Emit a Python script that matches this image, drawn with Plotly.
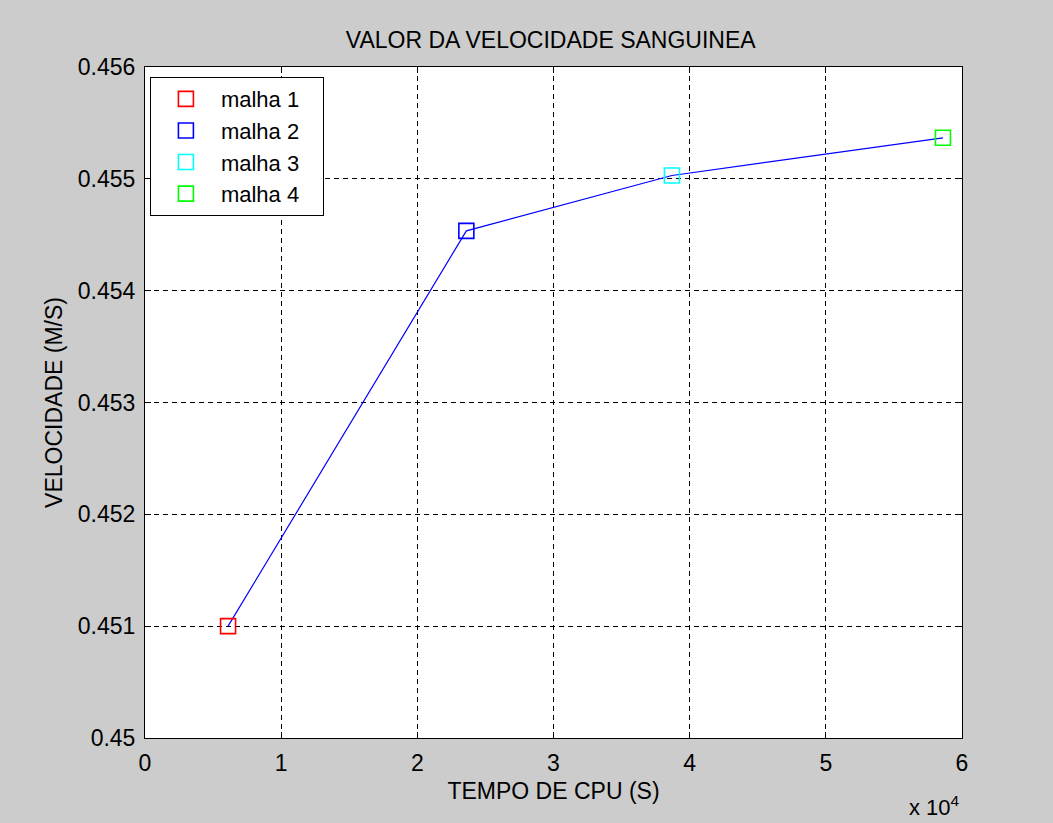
import plotly.graph_objects as go

# CPU time (s) and blood velocity (m/s) for each mesh
malhas = ["malha 1", "malha 2", "malha 3", "malha 4"]
tempo_cpu = [6100, 23600, 38700, 58600]
velocidade = [0.45100, 0.454535, 0.455030, 0.455367]
cores = ["#ff0000", "#0000ff", "#00ffff", "#00ff00"]

x_ticks = [0, 10000, 20000, 30000, 40000, 50000, 60000]
x_tick_labels = ["0", "1", "2", "3", "4", "5", "6"]
y_ticks = [0.450, 0.451, 0.452, 0.453, 0.454, 0.455, 0.456]
y_tick_labels = ["0.45", "0.451", "0.452", "0.453", "0.454", "0.455", "0.456"]

FONT = "Liberation Sans, Arial, sans-serif"

fig = go.Figure()

# connecting line through all meshes
fig.add_trace(go.Scatter(
    x=tempo_cpu, y=velocidade, mode="lines",
    line=dict(color="#0000ff", width=1.2),
    showlegend=False, hoverinfo="skip",
))

# one open-square marker per mesh; the non-breaking spaces pad the legend box
for nome, xv, yv, cor in zip(malhas, tempo_cpu, velocidade, cores):
    fig.add_trace(go.Scatter(
        x=[xv], y=[yv], mode="markers", name=nome + "\u00a0" * 3,
        marker=dict(symbol="square-open", size=15, color=cor,
                    line=dict(color=cor, width=1.6)),
    ))

axis_common = dict(
    showline=True, linecolor="#000000", linewidth=1, mirror="ticks",
    ticks="inside", ticklen=6, tickcolor="#000000",
    showgrid=True, gridcolor="#000000", gridwidth=1, griddash="5px,4px",
    zeroline=False, tickfont=dict(family=FONT, size=23, color="#000000"),
)

fig.update_xaxes(
    range=[0, 60000], tickvals=x_ticks, ticktext=x_tick_labels,
    title=dict(text="TEMPO DE CPU (S)", font=dict(family=FONT, size=23, color="#000000"),
               standoff=8),
    ticklabelstandoff=4,
    **axis_common,
)
fig.update_yaxes(
    range=[0.450, 0.456], tickvals=y_ticks, ticktext=y_tick_labels,
    title=dict(text="VELOCIDADE (M/S)", font=dict(family=FONT, size=23, color="#000000"),
               standoff=8),
    ticklabelstandoff=4,
    **axis_common,
)

fig.add_annotation(
    text="x 10<sup>4</sup>", xref="paper", yref="paper",
    x=1.0, y=0, xanchor="right", yanchor="top", yshift=-52, xshift=0,
    showarrow=False, font=dict(family=FONT, size=22, color="#000000"),
)

fig.update_layout(
    width=1053, height=823,
    paper_bgcolor="#cccccc", plot_bgcolor="#ffffff",
    margin=dict(l=145, r=91, t=67, b=85),
    title=dict(text="VALOR DA VELOCIDADE SANGUINEA", x=0.523, xanchor="center",
               y=0.952, yanchor="middle",
               font=dict(family=FONT, size=23, color="#000000")),
    legend=dict(
        x=0.006, y=0.985, xanchor="left", yanchor="top",
        bgcolor="#ffffff", bordercolor="#000000", borderwidth=1,
        font=dict(family=FONT, size=22, color="#000000"),
        itemwidth=60, tracegroupgap=0,
    ),
    showlegend=True,
)

fig.write_html("out.html")
